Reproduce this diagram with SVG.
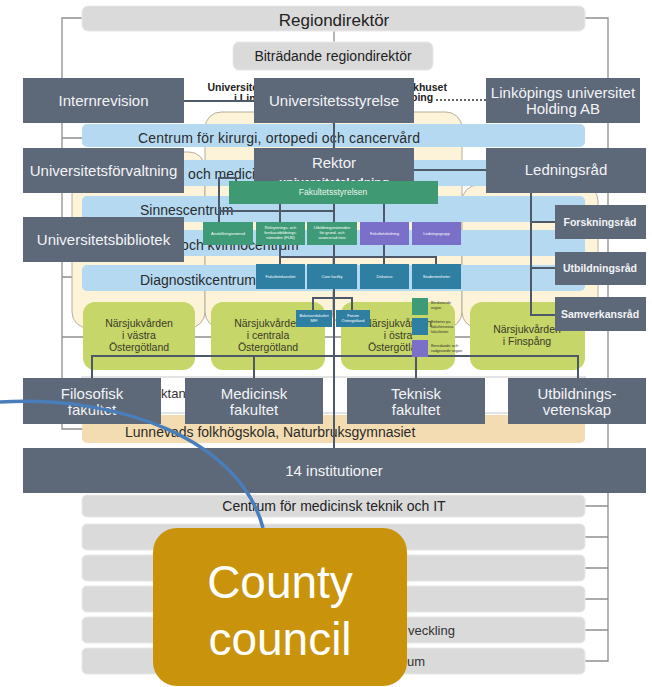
<svg xmlns="http://www.w3.org/2000/svg" width="652" height="687" viewBox="0 0 652 687">
<style>
text{font-family:"Liberation Sans",Arial,sans-serif}
.gb{fill:#dadada;stroke:#e8e8e8;stroke-width:1}
.bb{fill:#b4d9f1}
.pn{fill:#fdf3d8;stroke:#b5ae9f;stroke-width:1}
.ns{fill:#c6d668}
.dk{fill:#5d6879}
.dt{fill:#f3f4f6;font-size:15px;text-anchor:middle}
.bt{fill:#2b2b2b;font-size:14px}
.gt{fill:#222;font-size:14px;text-anchor:middle}
.nt{fill:#3a3a2a;font-size:10.5px;text-anchor:middle}
.ol{stroke:#8e8e8e;stroke-width:1.3;fill:none}
.ln{stroke:#4d5868;stroke-width:2;fill:none}
.sg{fill:#3f9b77}
.sb{fill:#2f7fa3}
.sp{fill:#7b70c9}
.st{fill:#fff;font-size:4px;text-anchor:middle}
.lt{fill:#333;font-size:4px}
.rt{fill:#f3f4f6;font-size:10.5px;font-weight:bold;text-anchor:middle}
.ul{fill:#222;font-size:10.5px;font-weight:bold;text-anchor:middle}
</style>
<rect width="652" height="687" fill="#fff"/>

<g id="region-lines">
<path class="ol" d="M82 18H62V429H82M62 138H82M62 277H82M62 337H585"/>
<path class="ol" d="M585 18H608V661H585M585 506H608M585 537H608M585 568H608M585 599H608M585 630H608"/>
<path class="ol" d="M334 31V42"/>
</g>

<g id="regiondirektor"><rect class="gb" x="82" y="6" width="503" height="25" rx="6"/><text x="334" y="26" font-size="17" fill="#222" text-anchor="middle">Regiondirektör</text></g>
<g id="bitradande"><rect class="gb" x="233" y="42" width="200" height="28" rx="6"/><text x="333" y="61" font-size="14" fill="#222" text-anchor="middle">Biträdande regiondirektör</text></g>

<g id="panels">
<rect class="pn" x="72" y="152" width="133" height="176" rx="16"/>
<rect class="pn" x="205" y="112" width="128" height="216" rx="16"/>
<rect class="pn" x="333" y="112" width="129" height="216" rx="16"/>
<rect class="pn" x="462" y="185" width="136" height="143" rx="16"/>
</g>
<g id="sjukhus-labels">
<text class="ul" x="262" y="91">Universitetssjukhuset</text>
<text class="ul" x="262" y="102">i Linköping</text>
<text class="ul" x="402" y="91">Vrinnevisjukhuset</text>
<text class="ul" x="402" y="101">i Norrköping</text>
</g>

<g id="centrum-kirurgi"><rect class="bb" x="82" y="124" width="503" height="23" rx="5"/><text class="bt" x="138" y="143" textLength="282">Centrum för kirurgi, ortopedi och cancervård</text></g>
<g id="hjart-medicin"><rect class="bb" x="82" y="160" width="503" height="26" rx="5"/><text class="bt" x="150" y="179">Hjärt- och medicincentrum</text></g>
<g id="sinnescentrum"><rect class="bb" x="82" y="196" width="503" height="26" rx="5"/><text class="bt" x="140" y="215">Sinnescentrum</text></g>
<g id="barn-kvinno"><rect class="bb" x="82" y="230" width="503" height="26" rx="5"/><text class="bt" x="143" y="250">Barn- och kvinnocentrum</text></g>
<g id="diagnostik"><rect class="bb" x="82" y="265" width="503" height="26" rx="5"/><text class="bt" x="140" y="285">Diagnostikcentrum</text></g>

<g id="nsv-vastra"><rect class="ns" x="83" y="302" width="112" height="68" rx="12"/><text class="nt" x="139" y="327">Närsjukvården</text><text class="nt" x="139" y="339">i västra</text><text class="nt" x="139" y="351">Östergötland</text></g>
<g id="nsv-centrala"><rect class="ns" x="211" y="302" width="114" height="68" rx="12"/><text class="nt" x="268" y="327">Närsjukvården</text><text class="nt" x="268" y="339">i centrala</text><text class="nt" x="268" y="351">Östergötland</text></g>
<g id="nsv-ostra"><rect class="ns" x="341" y="302" width="114" height="68" rx="12"/><text class="nt" x="398" y="327">Närsjukvården</text><text class="nt" x="398" y="339">i östra</text><text class="nt" x="398" y="351">Östergötland</text></g>
<g id="nsv-finspang"><rect class="ns" x="470" y="302" width="115" height="68" rx="12"/><text class="nt" x="527" y="333">Närsjukvården</text><text class="nt" x="527" y="345">i Finspång</text></g>

<g id="folktandvarden"><rect x="82" y="377" width="503" height="36" fill="#fff" stroke="#c8c8c8"/><text x="143" y="398" font-size="13" fill="#333">Folktandvården</text></g>
<g id="lunnevad"><rect x="82" y="415" width="503" height="28" rx="5" fill="#f3dcb2"/><text class="bt" x="125" y="437">Lunnevads folkhögskola, Naturbruksgymnasiet</text></g>

<g id="bottom-bars">
<rect class="gb" x="82" y="495" width="503" height="22" rx="5"/><text class="gt" x="334" y="511">Centrum för medicinsk teknik och IT</text>
<rect class="gb" x="82" y="524" width="503" height="26" rx="5"/>
<rect class="gb" x="82" y="555" width="503" height="26" rx="5"/>
<rect class="gb" x="82" y="586" width="503" height="26" rx="5"/>
<rect class="gb" x="82" y="617" width="503" height="26" rx="5"/><text x="408" y="635" font-size="13" fill="#333">veckling</text>
<rect class="gb" x="82" y="648" width="503" height="26" rx="5"/><text x="407" y="666" font-size="13" fill="#333">um</text>
</g>

<g id="connectors">
<path class="ln" d="M184 101H254"/>
<path d="M436 100H486" stroke="#333" stroke-width="1.5" stroke-dasharray="2 2"/>
<path class="ln" d="M334 123V448"/>
<path class="ln" d="M414 170H486"/>
<path class="ln" d="M531 193V315H555M531 222H555M531 268H555"/>
<path class="ln" d="M236 181V178H219V222M219 211H334M280 204V222M384 204V264M280 245V264M280 257H436V264"/>
<path class="ln" d="M313 311V298H352V311"/>
<path class="ln" d="M92 378V356H578V378M254 356V378M416 356V378"/>
</g>

<g id="internrevision"><rect class="dk" x="23" y="78" width="161" height="45"/><text class="dt" x="103.5" y="106">Internrevision</text></g>
<g id="universitetsstyrelse"><rect class="dk" x="254" y="78" width="160" height="45"/><text class="dt" x="334" y="106">Universitetsstyrelse</text></g>
<g id="holding"><rect class="dk" x="486" y="78" width="154" height="45"/><text class="dt" x="563" y="98">Linköpings universitet</text><text class="dt" x="563" y="114">Holding AB</text></g>
<g id="universitetsforvaltning"><rect class="dk" x="23" y="148" width="161" height="45"/><text class="dt" x="103.5" y="176">Universitetsförvaltning</text></g>
<g id="rektor"><rect class="dk" x="254" y="148" width="160" height="45"/><text class="dt" x="334" y="168" font-size="16">Rektor</text><text x="334" y="187" font-size="12" font-weight="bold" fill="#f3f4f6" text-anchor="middle">universitetsledning</text></g>
<g id="ledningsrad"><rect class="dk" x="486" y="148" width="160" height="45"/><text class="dt" x="566" y="175">Ledningsråd</text></g>
<g id="universitetsbibliotek"><rect class="dk" x="23" y="217" width="161" height="45"/><text class="dt" x="103.5" y="245">Universitetsbibliotek</text></g>
<g id="forskningsrad"><rect class="dk" x="555" y="205" width="91" height="34"/><text class="rt" x="600" y="226">Forskningsråd</text></g>
<g id="utbildningsrad"><rect class="dk" x="555" y="252" width="91" height="33"/><text class="rt" x="600" y="272">Utbildningsråd</text></g>
<g id="samverkansrad"><rect class="dk" x="555" y="297" width="91" height="34"/><text class="rt" x="600" y="318">Samverkansråd</text></g>

<g id="fakultetsstyrelsen"><rect x="229" y="181" width="209" height="23" fill="#3f9a73"/><text x="333" y="195" font-size="8.5" fill="#e6f4ec" text-anchor="middle">Fakultetsstyrelsen</text></g>
<g id="anstallningsnamnd"><rect class="sg" x="203" y="222" width="50" height="23"/><text class="st" x="228" y="235">Anställningsnämnd</text></g>
<g id="fun"><rect class="sg" x="256" y="222" width="49" height="23"/><text class="st" x="280.5" y="229">Rekryterings- och</text><text class="st" x="280.5" y="234">forskarutbildnings-</text><text class="st" x="280.5" y="239">nämnden (FUN)</text></g>
<g id="utbildningsnamnden"><rect class="sg" x="307" y="222" width="50" height="23"/><text class="st" x="332" y="229">Utbildningsnämnden</text><text class="st" x="332" y="234">för grund- och</text><text class="st" x="332" y="239">avancerad nivå</text></g>
<g id="fakultetsledning"><rect class="sp" x="360" y="222" width="49" height="23"/><text class="st" x="384.5" y="235">Fakultetsledning</text></g>
<g id="ledningsgrupp"><rect class="sp" x="412" y="222" width="49" height="23"/><text class="st" x="436.5" y="235">Ledningsgrupp</text></g>
<g id="kansli"><rect class="sb" x="256" y="264" width="49" height="25"/><text class="st" x="280.5" y="278">Fakultetskansliet</text></g>
<g id="core-facility"><rect class="sb" x="307" y="264" width="50" height="25"/><text class="st" x="332" y="278">Core facility</text></g>
<g id="dekanus"><rect class="sb" x="360" y="264" width="49" height="25"/><text class="st" x="384.5" y="278">Dekanus</text></g>
<g id="studentenheter"><rect class="sb" x="412" y="264" width="49" height="25"/><text class="st" x="436.5" y="278">Studentenheter</text></g>
<g id="mfi"><rect class="sb" x="296" y="310" width="36" height="17"/><text class="st" x="314" y="317">Bokstavsfakultet</text><text class="st" x="314" y="322">MFI</text></g>
<g id="forum"><rect class="sb" x="336" y="310" width="34" height="17"/><text class="st" x="353" y="317">Forum</text><text class="st" x="353" y="322">Östergötland</text></g>

<g id="legend">
<rect class="sg" x="412" y="298" width="16" height="17"/><text class="lt" x="431" y="304">Beslutande</text><text class="lt" x="431" y="309">organ</text>
<rect class="sb" x="412" y="318" width="16" height="17"/><text class="lt" x="431" y="323">Enheter på</text><text class="lt" x="431" y="328">fakultetsnivå</text><text class="lt" x="431" y="333">fakulteten</text>
<rect class="sp" x="412" y="340" width="16" height="17"/><text class="lt" x="431" y="347">Beredande och</text><text class="lt" x="431" y="352">rådgivande organ</text>
</g>

<g id="filosofisk"><rect class="dk" x="23" y="378" width="138" height="46"/><text class="dt" x="92" y="399">Filosofisk</text><text class="dt" x="92" y="415">fakultet</text></g>
<g id="medicinsk"><rect class="dk" x="185" y="378" width="138" height="46"/><text class="dt" x="254" y="399">Medicinsk</text><text class="dt" x="254" y="415">fakultet</text></g>
<g id="teknisk"><rect class="dk" x="347" y="378" width="138" height="46"/><text class="dt" x="416" y="399">Teknisk</text><text class="dt" x="416" y="415">fakultet</text></g>
<g id="utbildningsvetenskap"><rect class="dk" x="508" y="378" width="138" height="46"/><text class="dt" x="577" y="399">Utbildnings-</text><text class="dt" x="577" y="415">vetenskap</text></g>
<g id="institutioner"><rect class="dk" x="23" y="448" width="623" height="45"/><text class="dt" x="334" y="476">14 institutioner</text></g>

<g id="callout-connector"><path d="M0 402C120 395 240 440 263 528" stroke="#4a7ebb" stroke-width="3.5" fill="none"/></g>
<g id="county-council"><rect x="153" y="528" width="254" height="158" rx="24" fill="#c9940b"/><text x="280" y="598" font-size="46" fill="#fff" text-anchor="middle">County</text><text x="280" y="655" font-size="46" fill="#fff" text-anchor="middle">council</text></g>
</svg>
